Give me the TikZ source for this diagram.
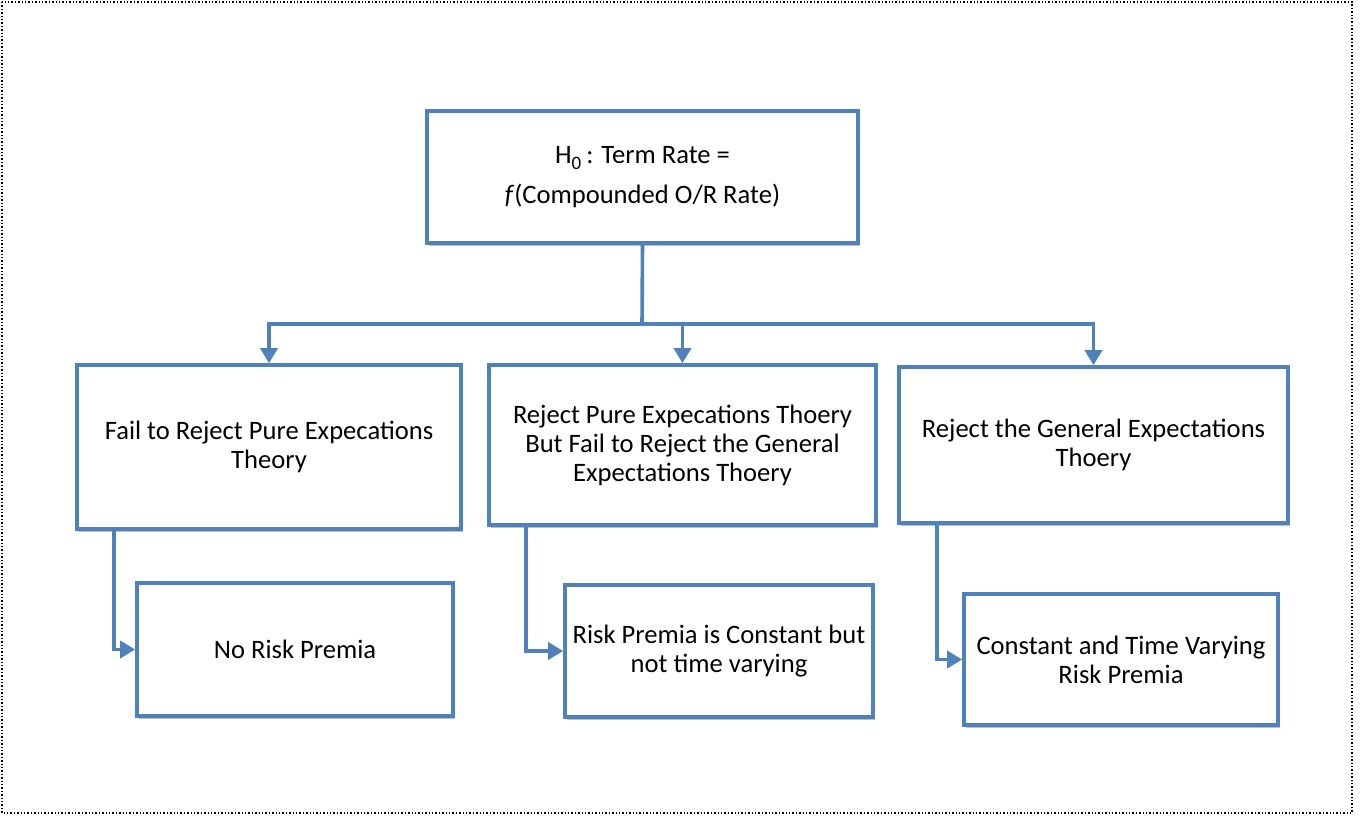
\documentclass[tikz,border=0pt]{standalone}
\usepackage{fontspec}
\setmainfont{Carlito}
\usetikzlibrary{arrows.meta,shadows}
\definecolor{boxblue}{HTML}{4F81BD}
\begin{document}
\begin{tikzpicture}[x=1pt,y=-1pt,
  box/.style={draw=boxblue, line width=3.6pt, fill=white, align=center,
    inner sep=0pt, font=\fontsize{26.6}{29}\selectfont,
    drop shadow={fill=black, opacity=0.25, shadow xshift=2pt, shadow yshift=-3pt}},
  conn/.style={draw=boxblue, line width=3.6pt,
    -{Triangle[length=15pt,width=17pt]}},
  frame/.style={draw=black, line width=1.4pt, dotted}]
\useasboundingbox (0,0) rectangle (1361,817);
\draw[frame] (2,2) rectangle (1352,813);

\node[box, minimum width=431, minimum height=132] (top) at (642.5,177)
  {H\raisebox{-6pt}{\fontsize{19}{19}\selectfont 0}\hspace{5pt}: Term Rate =\\[11pt]\textit{f}(Compounded O/R Rate)};
\node[box, minimum width=384, minimum height=164] (L) at (269,447)
  {Fail to Reject Pure Expecations\\Theory};
\node[box, minimum width=387, minimum height=160] (M) at (682.5,445)
  {Reject Pure Expecations Thoery\\But Fail to Reject the General\\Expectations Thoery};
\node[box, minimum width=389, minimum height=156] (R) at (1093.5,445)
  {Reject the General Expectations\\Thoery};
\node[box, minimum width=316, minimum height=133] (BL) at (295,649.5)
  {No Risk Premia};
\node[box, minimum width=308, minimum height=132] (BM) at (719,651)
  {Risk Premia is Constant but\\not time varying};
\node[box, minimum width=314, minimum height=131] (BR) at (1121,659.5)
  {Constant and Time Varying\\Risk Premia};

\coordinate (j) at (642,324);
\draw[boxblue, line width=3.6pt] (top.south) -- (j);
\draw[conn] (j) -| (L.north);
\draw[conn] (j) -| (M.north);
\draw[conn] (j) -| (R.north);

\draw[conn] ([xshift=39pt]L.south west) |- (BL.west);
\draw[conn] ([xshift=39pt]M.south west) |- (BM.west);
\draw[conn] ([xshift=40pt]R.south west) |- (BR.west);
\end{tikzpicture}
\end{document}
